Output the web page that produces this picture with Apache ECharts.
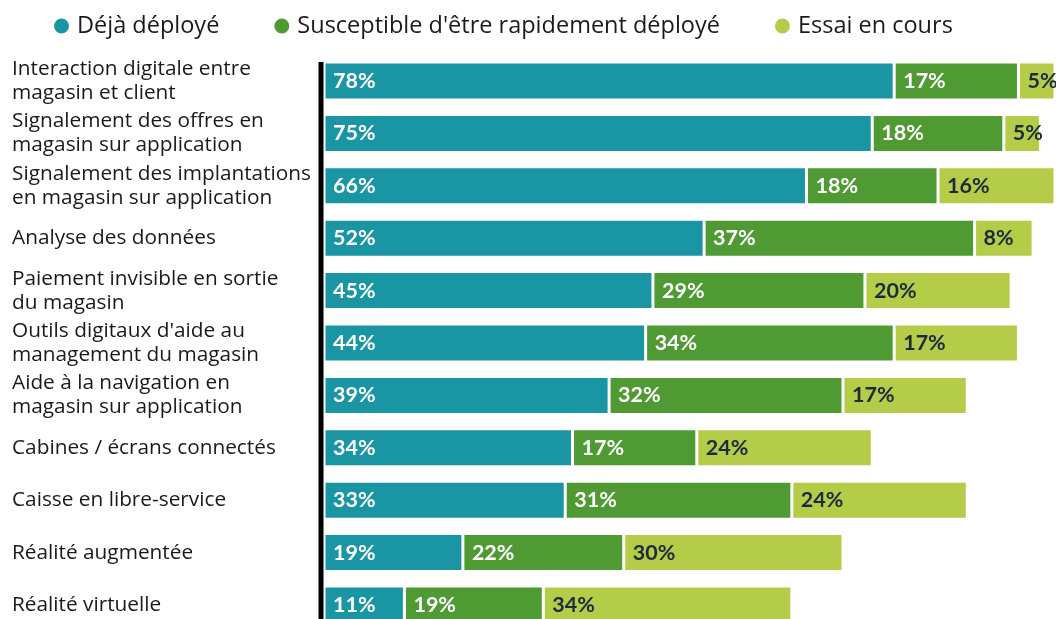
<!DOCTYPE html>
<html><head><meta charset="utf-8">
<script src="https://cdn.jsdelivr.net/npm/echarts@6/dist/echarts.min.js"></script>
<style>html,body{margin:0;padding:0;background:#fff;overflow:hidden}#c{width:1056px;height:640px}</style>
</head><body><div id="c"></div>
<script>
const categories = [
  "Interaction digitale entre\nmagasin et client",
  "Signalement des offres en\nmagasin sur application",
  "Signalement des implantations\nen magasin sur application",
  "Analyse des données",
  "Paiement invisible en sortie\ndu magasin",
  "Outils digitaux d'aide au\nmanagement du magasin",
  "Aide à la navigation en\nmagasin sur application",
  "Cabines / écrans connectés",
  "Caisse en libre-service",
  "Réalité augmentée",
  "Réalité virtuelle"
];
const seriesNames = ["Déjà déployé", "Susceptible d'être rapidement déployé", "Essai en cours"];
const dejaDeploye = [78, 75, 66, 52, 45, 44, 39, 34, 33, 19, 11];
const susceptible = [17, 18, 18, 37, 29, 34, 32, 17, 31, 22, 19];
const essai = [5, 5, 16, 8, 20, 17, 17, 24, 24, 30, 34];

const colors = ["#1995a4", "#4f9a33", "#b4cc48"];
const labelColors = ["#ffffff", "#ffffff", "#1b2b3b"];
const values = [dejaDeploye, susceptible, essai];
const barW = 38;

const chart = echarts.init(document.getElementById('c'), null, {renderer: 'canvas'});
const option = {
  animation: false,
  color: colors,
  legend: {
    left: 47, top: 9,
    icon: 'circle', itemWidth: 17, itemHeight: 17, itemGap: 53,
    textStyle: {fontFamily: 'Open Sans', fontSize: 23.5, color: '#1a1a1a', padding: [0, 0, 0, 2]},
    data: seriesNames
  },
  grid: {left: 324, right: 1, top: 54.8, height: 576.4, containLabel: false},
  xAxis: {type: 'value', min: 0, max: 100, show: false},
  yAxis: {
    type: 'category', inverse: true, data: categories,
    axisLine: {show: false}, axisTick: {show: false},
    axisLabel: {
      align: 'left', margin: 312, fontFamily: 'Open Sans', fontSize: 20.8,
      lineHeight: 24, color: '#1a1a1a'
    }
  },
  series: values.map((v, i) => ({
    name: seriesNames[i], type: 'bar', stack: 'total', data: v, barWidth: barW,
    itemStyle: {color: colors[i], borderColor: '#ffffff', borderWidth: 1.5},
    label: {
      show: true, position: 'insideLeft', distance: 9, formatter: '{c}%',
      fontFamily: 'Lato', fontWeight: 'bold', fontSize: 21.5, color: labelColors[i]
    }
  }))
};
chart.setOption(option);
const p = chart.convertToPixel({gridIndex: 0}, [0, categories[0]]);
chart.setOption({
  graphic: [{
    type: 'line', z: 100,
    shape: {x1: p[0] - 3, y1: p[1] - barW / 2, x2: p[0] - 3, y2: 640},
    style: {stroke: '#000000', lineWidth: 5}
  }]
});
</script></body></html>
